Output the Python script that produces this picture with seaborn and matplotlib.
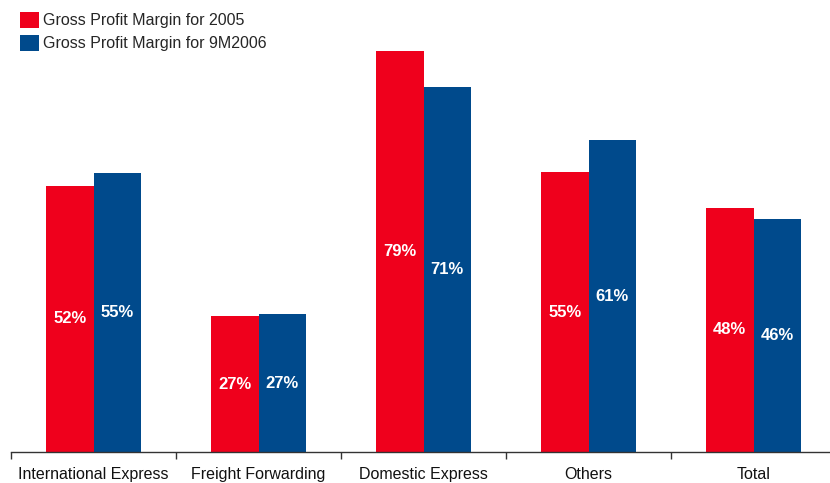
import matplotlib
matplotlib.use("Agg")
import matplotlib.pyplot as plt
import seaborn as sns
import pandas as pd
from matplotlib.patches import Patch

categories = ["International Express", "Freight Forwarding", "Domestic Express", "Others", "Total"]
series_names = ["Gross Profit Margin for 2005", "Gross Profit Margin for 9M2006"]
margin_2005 = [52.4, 26.7, 78.9, 55.0, 48.0]
margin_9m2006 = [54.8, 27.1, 71.8, 61.3, 45.8]
labels_2005 = ["52%", "27%", "79%", "55%", "48%"]
labels_9m2006 = ["55%", "27%", "71%", "61%", "46%"]

colors = ["#EF001C", "#004A8C"]

df = pd.DataFrame({
    "category": categories * 2,
    "series": [series_names[0]] * 5 + [series_names[1]] * 5,
    "value": margin_2005 + margin_9m2006,
})

sns.set_theme(style="white")
plt.rcParams["font.family"] = ["Liberation Sans", "DejaVu Sans"]

fig = plt.figure(figsize=(8.3, 4.83), dpi=100)
ax = fig.add_axes([11 / 830, 31 / 483, 825 / 830, 452 / 483])

sns.barplot(data=df, x="category", y="value", hue="series", order=categories,
            hue_order=series_names, palette=colors, width=0.576, saturation=1,
            linewidth=0, edgecolor="none", ax=ax, legend=False)

ax.set_xlim(-0.5, 4.5)
ax.set_ylim(0, 88.9)
ax.set_xlabel("")
ax.set_ylabel("")
ax.set_yticks([])
for side in ["top", "right", "left"]:
    ax.spines[side].set_visible(False)
ax.spines["bottom"].set_color("#333333")
ax.spines["bottom"].set_linewidth(1.0)

# category labels without tick marks; ticks at boundaries
ax.set_xticks(range(len(categories)))
ax.set_xticklabels(categories, fontsize=11.5, color="#111111")
ax.tick_params(axis="x", which="major", length=0, pad=11)
ax.set_xticks([i - 0.5 for i in range(len(categories) + 1)], minor=True)
ax.tick_params(axis="x", which="minor", bottom=True, length=5, width=1,
               color="#333333", direction="out")

for container, labs in zip(ax.containers, [labels_2005, labels_9m2006]):
    ax.bar_label(container, labels=labs, label_type="center", color="white",
                 fontsize=12, fontweight="bold")

handles = [Patch(facecolor=c, edgecolor="none") for c in colors]
fig.legend(handles, series_names, loc="upper left", bbox_to_anchor=(0.007, 1.005),
           frameon=False, fontsize=11.5, handlelength=1.15, handleheight=1.15,
           handletextpad=0.25, labelspacing=0.4, borderaxespad=0.5)

fig.savefig("out.png", dpi=100)
